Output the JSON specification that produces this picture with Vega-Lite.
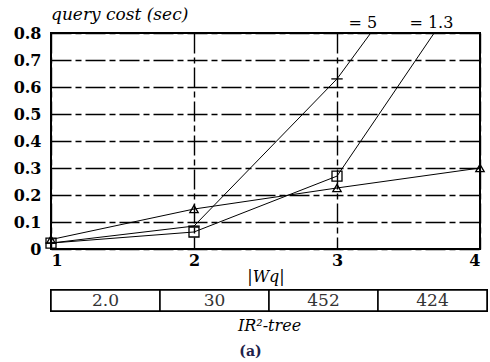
{
  "$schema": "https://vega.github.io/schema/vega-lite/v6.json",
  "padding": {"left": 12, "top": 5, "right": 0, "bottom": 0},
  "background": "white",
  "spacing": 3,
  "title": {"text": "(a)", "orient": "bottom", "anchor": "middle", "font": "DejaVu Serif", "fontSize": 14, "fontWeight": "bold", "color": "#22224a", "offset": 11},
  "config": {"view": {"stroke": "black", "strokeWidth": 2}},
  "datasets": {
    "costs": [
      {"wq": 1, "series": "tri", "cost": 0.035},
      {"wq": 2, "series": "tri", "cost": 0.148},
      {"wq": 3, "series": "tri", "cost": 0.226},
      {"wq": 4, "series": "tri", "cost": 0.30},
      {"wq": 1, "series": "s13", "cost": 0.022},
      {"wq": 2, "series": "s13", "cost": 0.063},
      {"wq": 3, "series": "s13", "cost": 0.27},
      {"wq": 4, "series": "s13", "cost": 1.05},
      {"wq": 1, "series": "s5", "cost": 0.022},
      {"wq": 2, "series": "s5", "cost": 0.085},
      {"wq": 3, "series": "s5", "cost": 0.63},
      {"wq": 4, "series": "s5", "cost": 1.35}
    ],
    "labels": [
      {"wq": 3.18, "cost": 0.8, "label": "= 5"},
      {"wq": 3.66, "cost": 0.8, "label": "= 1.3"}
    ],
    "table": [
      {"cell": "a", "val": "2.0"},
      {"cell": "b", "val": "30"},
      {"cell": "c", "val": "452"},
      {"cell": "d", "val": "424"}
    ]
  },
  "vconcat": [
    {
      "width": 429,
      "height": 216,
      "title": {"text": "query cost (sec)", "anchor": "start", "frame": "group", "font": "DejaVu Serif", "fontSize": 17, "fontStyle": "italic", "fontWeight": "normal", "color": "black", "dx": 0, "offset": -9},
      "encoding": {
        "x": {"field": "wq", "type": "quantitative", "scale": {"domain": [1, 4], "nice": false, "zero": false},
          "axis": {"values": [1, 2, 3, 4], "format": "d", "title": "|Wq|", "titleFont": "DejaVu Serif", "titleFontSize": 16, "titleFontStyle": "italic", "titleFontWeight": "normal", "titleColor": "black", "titlePadding": 0,
            "labelFont": "DejaVu Serif", "labelFontSize": 16, "labelFontWeight": "bold", "labelColor": "black", "labelPadding": 3, "labelDx": 3, "labelOverlap": false,
            "ticks": false, "domain": false, "grid": true, "gridColor": "black", "gridWidth": 1.4, "gridDash": [20, 4, 6, 4], "gridOpacity": 1}},
        "y": {"field": "cost", "type": "quantitative", "scale": {"domain": [0, 0.8], "nice": false},
          "axis": {"values": [0, 0.1, 0.2, 0.3, 0.4, 0.5, 0.6, 0.7, 0.8], "title": null, "labelOverlap": false,
            "labelExpr": "datum.value == 0 ? '0' : format(datum.value, '.1f')",
            "labelFont": "DejaVu Serif", "labelFontSize": 16, "labelFontWeight": "bold", "labelColor": "black", "labelPadding": 10,
            "ticks": false, "domain": false, "grid": true, "gridColor": "black", "gridWidth": 1.4, "gridDash": [20, 4, 6, 4], "gridOpacity": 1}}
      },
      "layer": [
        {
          "data": {"name": "costs"},
          "mark": {"type": "line", "clip": true, "color": "black", "strokeWidth": 1},
          "encoding": {
            "detail": {"field": "series"}
          }
        },
        {
          "data": {"name": "costs"},
          "transform": [{"filter": "datum.cost <= 0.8"}],
          "mark": {"type": "point", "filled": false, "color": "black", "strokeWidth": 1.3, "opacity": 1},
          "encoding": {
            "shape": {"field": "series", "type": "nominal", "legend": null,
              "scale": {"domain": ["tri", "s13", "s5"], "range": ["triangle-up", "square", "stroke"]}},
            "size": {"field": "series", "type": "nominal", "legend": null,
              "scale": {"domain": ["tri", "s13", "s5"], "range": [70, 130, 250]}}
          }
        },
        {
          "data": {"name": "labels"},
          "mark": {"type": "text", "clip": false, "baseline": "bottom", "dy": -2, "font": "DejaVu Serif", "fontSize": 16, "color": "black"},
          "encoding": {
            "text": {"field": "label"}
          }
        }
      ]
    },
    {
      "width": 436,
      "height": 21,
      "data": {"name": "table"},
      "layer": [
        {
          "mark": {"type": "rect", "fill": "white", "stroke": "black", "strokeWidth": 1.5},
          "encoding": {
            "x": {"field": "cell", "type": "ordinal", "scale": {"paddingInner": 0, "paddingOuter": 0},
              "axis": {"labels": false, "ticks": false, "domain": false, "title": "IR²-tree", "titleFont": "DejaVu Serif", "titleFontSize": 16, "titleFontStyle": "italic", "titleFontWeight": "normal", "titleColor": "black", "titlePadding": 6}}
          }
        },
        {
          "mark": {"type": "text", "font": "DejaVu Serif", "fontSize": 17, "color": "#333"},
          "encoding": {
            "x": {"field": "cell", "type": "ordinal"},
            "text": {"field": "val"}
          }
        }
      ]
    }
  ]
}
